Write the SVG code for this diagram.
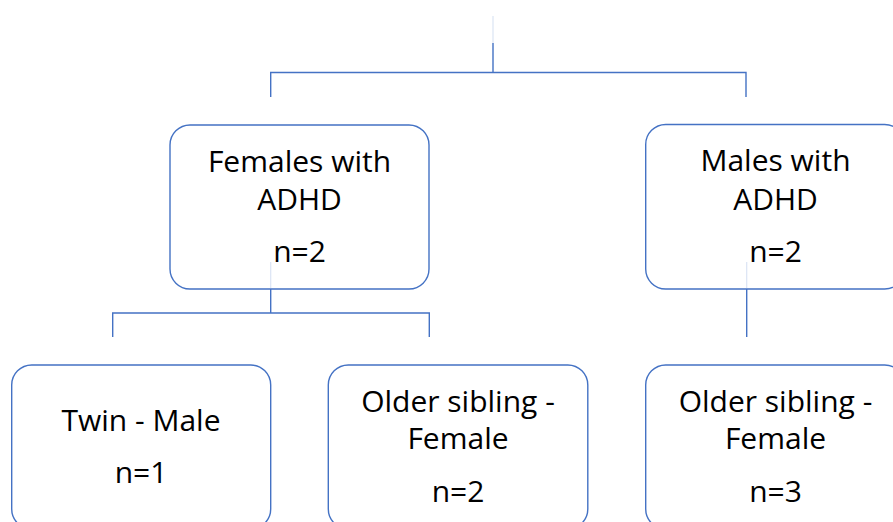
<svg xmlns="http://www.w3.org/2000/svg" width="893" height="522" viewBox="0 0 893 522">
  <style>
    .box { fill: #ffffff; stroke: #4472c4; stroke-width: 1.4; }
    .link { fill: none; stroke: #4472c4; stroke-width: 1.4; }
    .faint { fill: none; stroke: #dbe4f4; stroke-width: 1.2; }
    .label { font-family: "Open Sans", "Liberation Sans", sans-serif; font-size: 30px; fill: #000000; text-anchor: middle; }
  </style>
  <rect width="893" height="522" fill="#ffffff"/>

  <!-- solid connectors, drawn beneath the boxes -->
  <g id="connectors">
    <path class="link" d="M493 43 V72.5 M270.7 97 V72.5 H746 V97"/>
    <path class="link" d="M270.7 289 V313 M112.7 337 V313 H429.3 V337"/>
    <path class="link" d="M746.7 289 V337"/>
  </g>

  <g id="females">
    <rect class="box" x="170" y="125" width="259" height="164" rx="20"/>
    <text class="label" x="299.5" y="172">Females with</text>
    <text class="label" x="299.5" y="210">ADHD</text>
    <text class="label" x="299.5" y="262">n=2</text>
  </g>

  <g id="males">
    <rect class="box" x="645.7" y="124.5" width="259" height="164.5" rx="20"/>
    <text class="label" x="775.5" y="171">Males with</text>
    <text class="label" x="775.5" y="210">ADHD</text>
    <text class="label" x="775.5" y="262">n=2</text>
  </g>

  <g id="twin-male">
    <rect class="box" x="11.7" y="365" width="259" height="164" rx="20"/>
    <text class="label" x="141" y="431">Twin - Male</text>
    <text class="label" x="141" y="483">n=1</text>
  </g>

  <g id="older-sibling-f">
    <rect class="box" x="328.3" y="365" width="259.5" height="164" rx="20"/>
    <text class="label" x="458" y="412">Older sibling -</text>
    <text class="label" x="458" y="449">Female</text>
    <text class="label" x="458" y="501.5">n=2</text>
  </g>

  <g id="older-sibling-m">
    <rect class="box" x="645.7" y="365" width="259" height="164" rx="20"/>
    <text class="label" x="775.5" y="412">Older sibling -</text>
    <text class="label" x="775.5" y="449">Female</text>
    <text class="label" x="775.5" y="501.5">n=3</text>
  </g>

  <!-- pale stubs where the connectors pass over white areas -->
  <g id="connector-stubs">
    <line class="faint" x1="493" y1="16" x2="493" y2="43"/>
    <line class="faint" x1="270.7" y1="262" x2="270.7" y2="288"/>
    <line class="faint" x1="746.7" y1="262" x2="746.7" y2="288"/>
  </g>
</svg>
